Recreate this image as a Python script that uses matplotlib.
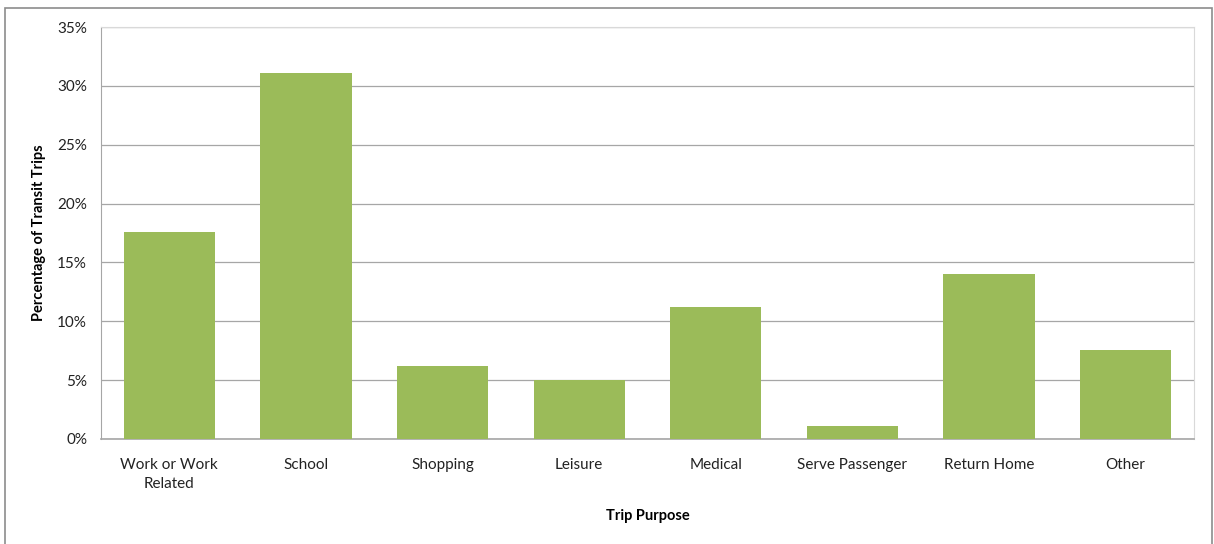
import matplotlib
matplotlib.use("Agg")
import matplotlib.pyplot as plt
from matplotlib.patches import Rectangle
from matplotlib.ticker import FuncFormatter

categories = ["Work or Work\nRelated", "School", "Shopping", "Leisure", "Medical",
              "Serve Passenger", "Return Home", "Other"]
values = [17.6, 31.1, 6.2, 5.0, 11.2, 1.1, 14.0, 7.6]
yticks = [0, 5, 10, 15, 20, 25, 30, 35]

plt.rcParams['font.family'] = ['Lato', 'DejaVu Sans']

fig = plt.figure(figsize=(12.14, 5.44), dpi=100)
W, H = 1214, 544
ax = fig.add_axes([101 / W, 1 - 439 / H, (1194 - 101) / W, (439 - 27) / H])

x = list(range(len(categories)))
ax.bar(x, values, width=0.667, color="#9BBB59", zorder=3)
ax.set_xlim(-0.5, len(categories) - 0.5)
ax.set_ylim(0, 35)
ax.set_yticks(yticks)
ax.yaxis.set_major_formatter(FuncFormatter(lambda v, p: f"{int(v)}%"))
ax.set_xticks(x)
ax.set_xticklabels(categories, fontsize=11, color="#222222", linespacing=1.45)
ax.tick_params(axis="y", labelsize=11, colors="#222222", length=0, pad=10)
ax.tick_params(axis="x", length=0, pad=14)
ax.grid(axis="y", color="#A6A6A6", linewidth=0.9, zorder=0)
for s in ["top", "right"]:
    ax.spines[s].set_color("#D9D9D9")
ax.spines["left"].set_color("#A6A6A6")
ax.spines["bottom"].set_color("#A6A6A6")
ax.spines["bottom"].set_linewidth(1.2)

ax.set_xlabel("Trip Purpose", fontsize=10.5, fontweight="bold", labelpad=13)
ax.set_ylabel("Percentage of Transit Trips", fontsize=10.5, fontweight="bold", labelpad=8)

fig.patches.append(Rectangle((5 / W, -0.02), (1212 - 5) / W, 1 - 8 / H + 0.02,
                             transform=fig.transFigure, fill=False,
                             edgecolor="#8C8C8C", linewidth=1.2))

fig.savefig("out.png", dpi=100)
